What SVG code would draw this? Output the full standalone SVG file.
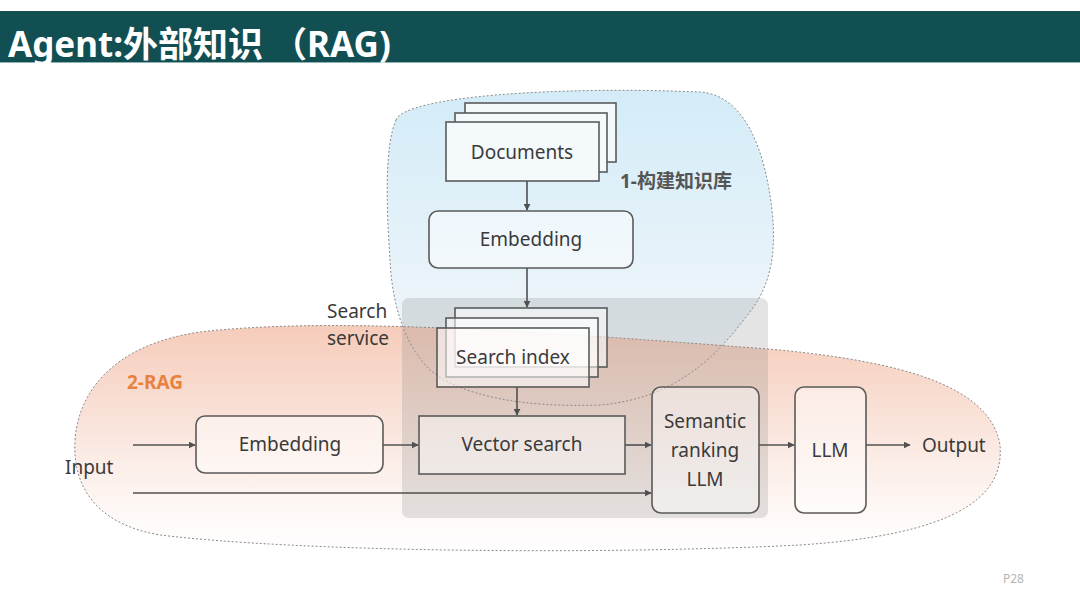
<svg xmlns="http://www.w3.org/2000/svg" width="1080" height="607" viewBox="0 0 1080 607">
<defs>
<linearGradient id="gBlue" x1="0" y1="0" x2="0" y2="1">
<stop offset="0" stop-color="#d3ecf8"/>
<stop offset="0.6" stop-color="#e9f3f9"/>
<stop offset="1" stop-color="#f3f7fa"/>
</linearGradient>
<linearGradient id="gOrange" x1="0" y1="0" x2="0" y2="1">
<stop offset="0" stop-color="#f5c9b6" stop-opacity="0.95"/>
<stop offset="0.45" stop-color="#f9e1d7" stop-opacity="0.9"/>
<stop offset="1" stop-color="#ffffff" stop-opacity="0.7"/>
</linearGradient>
<marker id="arr" viewBox="0 0 10 10" refX="9" refY="5" markerWidth="7" markerHeight="7" markerUnits="userSpaceOnUse" orient="auto">
<path d="M0,0 L10,5 L0,10 Z" fill="#505050"/>
</marker>
<style>
.box{fill:#ffffff;fill-opacity:0.45;stroke:#5a5a5a;stroke-width:1.6}
.page{fill:#f4f9fc;stroke:#5a5a5a;stroke-width:1.6}
.ipage{fill:#ffffff;fill-opacity:0.55;stroke:#5a5a5a;stroke-width:1.6}
.lbl{font-family:"Noto Sans","Open Sans",sans-serif;font-size:19px;fill:#3a3a3a;text-anchor:middle}
.con{stroke:#505050;stroke-width:1.6;fill:none;marker-end:url(#arr)}
.blob{stroke:#8a8a8a;stroke-width:1;stroke-dasharray:2 2;fill:none}
</style>
</defs>
<rect x="0" y="0" width="1080" height="607" fill="#ffffff"/>
<g id="title">
<rect x="0" y="11" width="1080" height="51" fill="#124f53"/>
<line x1="0" y1="62.5" x2="1080" y2="62.5" stroke="#8fb3b5" stroke-width="1"/>
<text x="8" y="57" font-family="'Noto Sans','Noto Sans CJK SC',sans-serif" font-size="35" font-weight="bold" fill="#ffffff">Agent:外部知识 （RAG)</text>
</g>
<g id="regions">
<path id="blueFill" d="M396,120 C405,96 560,86 700,92 C745,95 765,150 772,210 C778,265 765,295 745,318 C705,372 660,400 600,405 C520,408 460,395 430,370 C402,342 392,300 390,260 C386,200 385,145 396,120 Z" fill="url(#gBlue)"/>
<path id="orangeFill" d="M75,440 C78,395 110,345 200,332 C320,318 500,328 780,350 C900,362 990,385 1000,445 C1005,500 950,535 800,545 C600,555 300,552 160,535 C100,525 72,490 75,440 Z" fill="url(#gOrange)"/>
<rect id="searchService" x="402" y="298" width="366" height="220" rx="7" fill="#7a7a7a" fill-opacity="0.2"/>
<path d="M396,120 C405,96 560,86 700,92 C745,95 765,150 772,210 C778,265 765,295 745,318 C705,372 660,400 600,405 C520,408 460,395 430,370 C402,342 392,300 390,260 C386,200 385,145 396,120 Z" class="blob"/>
<path d="M75,440 C78,395 110,345 200,332 C320,318 500,328 780,350 C900,362 990,385 1000,445 C1005,500 950,535 800,545 C600,555 300,552 160,535 C100,525 72,490 75,440 Z" class="blob"/>
<text x="620" y="188" font-family="'Noto Sans','Noto Sans CJK SC',sans-serif" font-size="19" font-weight="bold" fill="#555555">1-构建知识库</text>
<text x="127" y="389" font-family="'Noto Sans',sans-serif" font-size="19" font-weight="bold" fill="#e8823f">2-RAG</text>
<text x="327" y="318" font-family="'Noto Sans',sans-serif" font-size="19" fill="#3a3a3a">Search</text>
<text x="327" y="345" font-family="'Noto Sans',sans-serif" font-size="19" fill="#3a3a3a">service</text>
</g>
<g id="connectors">
<line x1="527" y1="181" x2="527" y2="210" class="con"/>
<line x1="527" y1="268" x2="527" y2="307" class="con"/>
<line x1="517" y1="387" x2="517" y2="415" class="con"/>
<line x1="133" y1="445" x2="195" y2="445" class="con"/>
<line x1="383" y1="445" x2="418" y2="445" class="con"/>
<line x1="625" y1="445" x2="651" y2="445" class="con"/>
<line x1="133" y1="493" x2="651" y2="493" class="con"/>
<line x1="759" y1="445" x2="794" y2="445" class="con"/>
<line x1="866" y1="445" x2="910" y2="445" class="con"/>
</g>
<g id="documents">
<rect x="465" y="103" width="151" height="59" class="page"/>
<rect x="455" y="113" width="152" height="59" class="page"/>
<rect x="446" y="122" width="153" height="59" class="page"/>
<text x="522" y="159" class="lbl">Documents</text>
</g>
<g id="embedding1">
<rect x="429" y="211" width="204" height="57" rx="9" class="box"/>
<text x="531" y="246" class="lbl">Embedding</text>
</g>
<g id="searchIndex">
<rect x="455" y="308" width="152" height="59" class="ipage"/>
<rect x="446" y="318" width="152" height="59" class="ipage"/>
<rect x="437" y="328" width="152" height="59" class="ipage" fill-opacity="0.1"/>
<text x="513" y="364" class="lbl">Search index</text>
</g>
<g id="embedding2">
<rect x="196" y="416" width="187" height="57" rx="9" class="box"/>
<text x="290" y="451" class="lbl">Embedding</text>
</g>
<g id="vectorSearch">
<rect x="419" y="416" width="206" height="58" class="box"/>
<text x="522" y="451" class="lbl">Vector search</text>
</g>
<g id="semanticRanking">
<rect x="652" y="387" width="107" height="126" rx="9" class="box"/>
<text x="705" y="428" class="lbl">Semantic</text>
<text x="705" y="457" class="lbl">ranking</text>
<text x="705" y="486" class="lbl">LLM</text>
</g>
<g id="llm">
<rect x="795" y="387" width="71" height="126" rx="9" class="box"/>
<text x="830" y="457" class="lbl">LLM</text>
</g>
<g id="io">
<text x="65" y="474" font-family="'Noto Sans',sans-serif" font-size="19" fill="#3a3a3a">Input</text>
<text x="922" y="452" font-family="'Noto Sans',sans-serif" font-size="19" fill="#3a3a3a">Output</text>
</g>
<text x="1003" y="583" font-family="'Noto Sans',sans-serif" font-size="12" fill="#b5b5b5">P28</text>
</svg>
